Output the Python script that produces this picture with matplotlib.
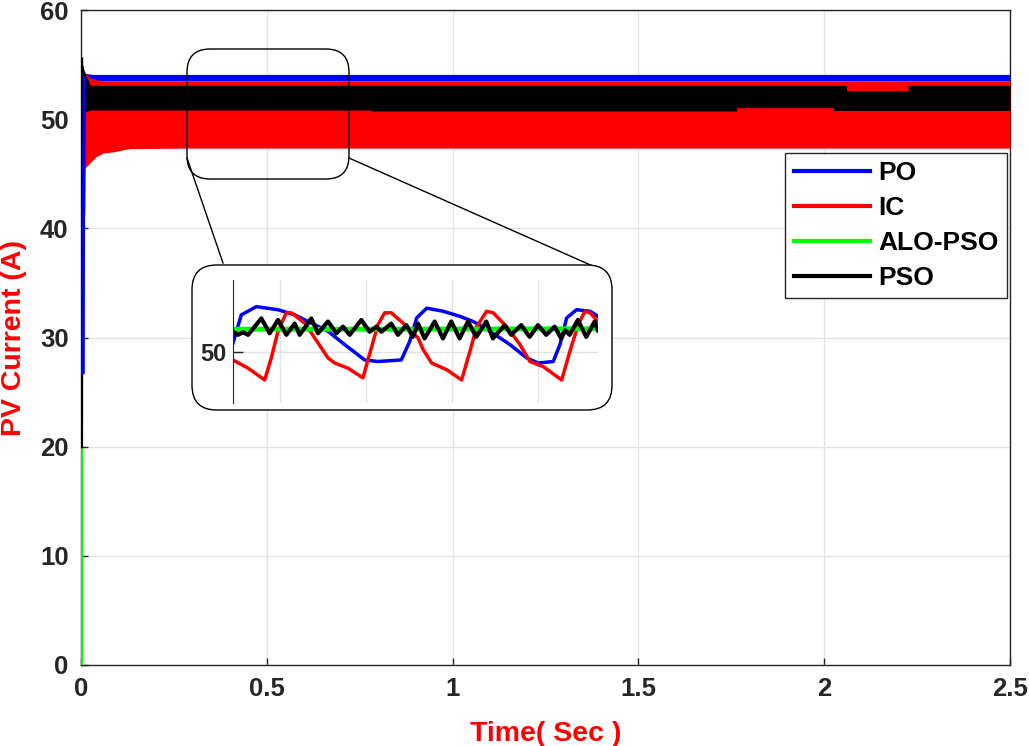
import matplotlib.pyplot as plt
from matplotlib.patches import FancyBboxPatch
from matplotlib.lines import Line2D

plt.rcParams['font.family'] = ['Liberation Sans', 'DejaVu Sans']
plt.rcParams['font.weight'] = 'bold'

# ---- main traces: envelopes of the ripple band (time s, current A) ----
po_t = [0.010, 0.030, 2.5]
po_hi = [54.2, 54.1, 54.1]
po_lo = [53.5, 53.5, 53.5]
po_start_t = [0.0055, 0.0062, 0.0070, 0.0080, 0.0095]
po_start_v = [26.8, 41.0, 41.5, 46.0, 53.8]

ic_t = [0.010, 0.024, 0.042, 0.060, 0.087, 0.114, 0.132, 0.30, 2.5]
ic_hi = [54.3, 53.8, 53.6, 53.5, 53.5, 53.5, 53.5, 53.5, 53.5]
ic_lo = [45.5, 46.0, 46.6, 46.9, 47.0, 47.2, 47.3, 47.35, 47.35]

alo_t = [0.0008, 0.0008, 0.003, 2.5]
alo_v = [0.0, 20.0, 52.0, 52.0]

pso_t = [0.001, 0.008, 0.025, 0.78, 0.78, 1.764, 1.764, 2.025, 2.025,
         2.06, 2.06, 2.226, 2.226, 2.5]
pso_hi = [55.5, 54.5, 53.1, 53.1, 53.1, 53.1, 53.1, 53.1, 53.1,
          53.1, 52.6, 52.6, 53.1, 53.1]
pso_lo = [50.5, 50.6, 50.84, 50.84, 50.75, 50.75, 51.05, 51.05, 50.8,
          50.8, 50.8, 50.8, 50.8, 50.8]
pso_start_t = [0.0009, 0.0012]
pso_start_v = [20.0, 55.5]

# ---- zoomed window (inset) ----
z_po_t = [0.0, 0.097, 0.271, 0.524, 0.718, 0.912, 1.106, 1.300, 1.533, 1.688,
          1.959, 2.057, 2.139, 2.255, 2.448, 2.643, 2.797, 2.992, 3.225, 3.419,
          3.554, 3.729, 3.807, 3.885, 4.001, 4.156, 4.253]
z_po_v = [50.17, 50.72, 50.88, 50.82, 50.72, 50.56, 50.40, 50.14, 49.84, 49.81,
          49.84, 50.20, 50.66, 50.85, 50.79, 50.69, 50.59, 50.40, 50.14, 49.88,
          49.78, 49.81, 50.14, 50.66, 50.82, 50.79, 50.69]

z_ic_t = [0.0, 0.175, 0.369, 0.446, 0.524, 0.620, 0.679, 0.835, 0.951, 1.106,
          1.184, 1.339, 1.513, 1.610, 1.688, 1.766, 1.843, 1.999, 2.154, 2.215,
          2.313, 2.488, 2.662, 2.759, 2.837, 2.953, 3.030, 3.186, 3.341, 3.457,
          3.612, 3.827, 3.923, 4.020, 4.098, 4.156, 4.253]
z_ic_v = [49.84, 49.68, 49.45, 49.88, 50.40, 50.76, 50.76, 50.56, 50.27, 49.88,
          49.78, 49.68, 49.49, 50.07, 50.53, 50.76, 50.76, 50.53, 50.27, 50.04,
          49.78, 49.65, 49.45, 50.01, 50.49, 50.79, 50.76, 50.49, 50.14, 49.81,
          49.71, 49.45, 50.01, 50.53, 50.79, 50.76, 50.59]

z_alo_t = [0.0, 2.0, 4.253]
z_alo_v = [50.44, 50.44, 50.45]

z_pso_t = [0.0, 0.058, 0.116, 0.175, 0.330, 0.427, 0.524, 0.621, 0.718, 0.776,
           0.912, 0.990, 1.106, 1.203, 1.281, 1.358, 1.494, 1.591, 1.669, 1.727,
           1.843, 1.921, 2.018, 2.095, 2.154, 2.231, 2.348, 2.445, 2.541, 2.639,
           2.736, 2.833, 2.949, 3.027, 3.163, 3.240, 3.356, 3.454, 3.551, 3.647,
           3.745, 3.822, 3.869, 3.920, 4.016, 4.113, 4.211, 4.249]
z_pso_v = [50.39, 50.33, 50.38, 50.33, 50.65, 50.36, 50.62, 50.33, 50.55, 50.33,
           50.65, 50.36, 50.59, 50.36, 50.49, 50.33, 50.62, 50.39, 50.49, 50.39,
           50.55, 50.33, 50.52, 50.29, 50.55, 50.26, 50.59, 50.26, 50.59, 50.26,
           50.59, 50.29, 50.59, 50.26, 50.52, 50.33, 50.52, 50.29, 50.52, 50.33,
           50.49, 50.26, 50.42, 50.33, 50.62, 50.29, 50.59, 50.42]

W, H = 1029, 746
fig = plt.figure(figsize=(W / 100, H / 100), dpi=100)


def fx(px):
    return px / W


def fy(py):
    return 1 - py / H


ax = fig.add_axes([fx(81), fy(665), 929 / W, 655 / H])
ax.fill_between(po_t, po_lo, po_hi, color=(0, 0, 1), lw=0, zorder=2)
ax.plot(po_start_t, po_start_v, color=(0, 0, 1), lw=2.5, zorder=5)
ax.fill_between(ic_t, ic_lo, ic_hi, color=(1, 0, 0), lw=0, zorder=3)
ax.plot(alo_t, alo_v, color=(0, 1, 0), lw=2.5, zorder=3.5)
ax.fill_between(pso_t, pso_lo, pso_hi, color='black', lw=0, zorder=4)
ax.plot(pso_start_t, pso_start_v, color='black', lw=2.5, zorder=4)

ax.set_xlim(0, 2.5)
ax.set_ylim(0, 60)
ax.set_xticks([0, 0.5, 1, 1.5, 2, 2.5])
ax.set_xticklabels(['0', '0.5', '1', '1.5', '2', '2.5'])
ax.set_yticks(range(0, 61, 10))
ax.grid(True, color='#e3e3e3', lw=1)
ax.set_axisbelow(True)
ax.tick_params(direction='in', length=5, width=1, color='#262626',
               labelsize=18.5, labelcolor='#262626', pad=9)
for s in ax.spines.values():
    s.set_color('#262626')
    s.set_linewidth(1)
ax.set_xlabel('Time( Sec )', color='red', fontsize=20.5, fontweight='bold', labelpad=14)
ax.set_ylabel('PV Current (A)', color='red', fontsize=20.5, fontweight='bold')
ax.yaxis.set_label_coords((27 - 81) / 929, 0.5)

handles = [Line2D([], [], color=(0, 0, 1), lw=3),
           Line2D([], [], color=(1, 0, 0), lw=3),
           Line2D([], [], color=(0, 1, 0), lw=3),
           Line2D([], [], color='black', lw=3)]
leg = ax.legend(handles, ['PO', 'IC', 'ALO-PSO', 'PSO'], loc='upper right',
                bbox_to_anchor=((1007 - 81) / 929, (665 - 153) / 655),
                borderaxespad=0, fancybox=False, framealpha=1,
                edgecolor='#262626', prop={'size': 19, 'weight': 'bold'},
                handlelength=2.9, handletextpad=0.3, labelspacing=0.41,
                borderpad=0.32)
leg.get_frame().set_linewidth(1)

# zoom window on the main trace and connectors
asp = W / H
zoom_box = FancyBboxPatch((fx(187), fy(179)), 162 / W, 130 / H,
                          boxstyle='round,pad=0,rounding_size=0.0225',
                          mutation_aspect=asp, transform=fig.transFigure,
                          facecolor='none', edgecolor='black', lw=1, zorder=3)
fig.add_artist(zoom_box)
fig.add_artist(Line2D([fx(187), fx(223)], [fy(158), fy(263)], color='black',
                      lw=1, transform=fig.transFigure, zorder=3))
fig.add_artist(Line2D([fx(349), fx(595)], [fy(158), fy(267)], color='black',
                      lw=1, transform=fig.transFigure, zorder=3))

inset_box = FancyBboxPatch((fx(192), fy(410)), 420 / W, 145 / H,
                           boxstyle='round,pad=0,rounding_size=0.024',
                           mutation_aspect=asp, transform=fig.transFigure,
                           facecolor='white', edgecolor='black', lw=1, zorder=4)
fig.add_artist(inset_box)

ins = fig.add_axes([fx(233), fy(403), 365 / W, 123 / H], zorder=6)
ins.patch.set_alpha(0)
ins.plot(z_po_t, z_po_v, color=(0, 0, 1), lw=2.5)
ins.plot(z_ic_t, z_ic_v, color=(1, 0, 0), lw=2.5)
ins.plot(z_alo_t, z_alo_v, color=(0, 1, 0), lw=3.5)
ins.plot(z_pso_t, z_pso_v, color='black', lw=3, solid_joinstyle='round')
ins.set_xlim(0, 4.25)
ins.set_ylim(49.0, 51.4)
ins.set_xticks([0.55, 1.55, 2.55, 3.55])
ins.set_yticks([50])
ins.tick_params(axis='x', length=0, labelbottom=False)
ins.tick_params(axis='y', direction='in', length=7, width=1, color='#262626',
                labelsize=17, labelcolor='#262626', pad=5)
ins.grid(True, color='#e3e3e3', lw=1)
ins.set_axisbelow(True)
for side in ['top', 'right', 'bottom']:
    ins.spines[side].set_visible(False)
ins.spines['left'].set_color('#262626')

fig.savefig('out.png', dpi=100)
